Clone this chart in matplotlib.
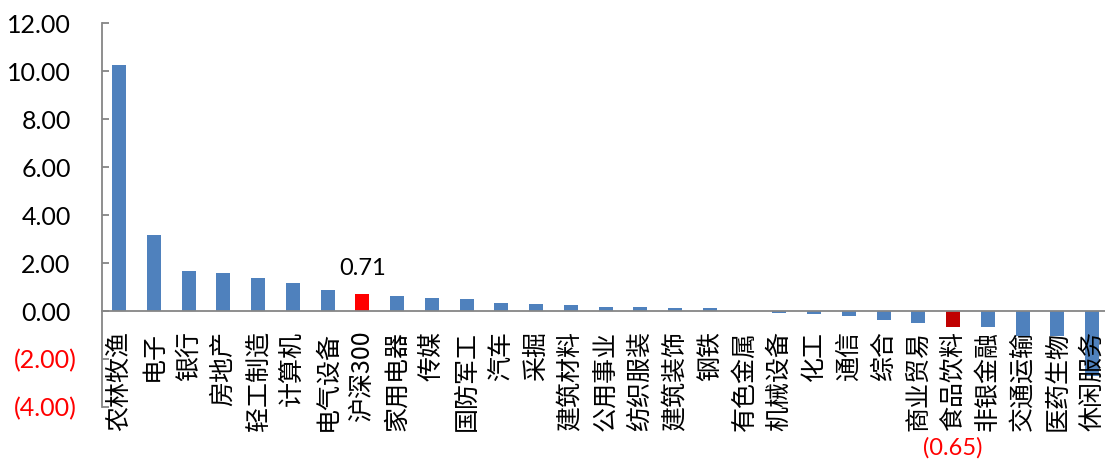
import matplotlib
matplotlib.use("Agg")
import matplotlib.pyplot as plt
import matplotlib.transforms as mtransforms

# 行业周涨跌幅(%)
industries = ["农林牧渔", "电子", "银行", "房地产", "轻工制造", "计算机", "电气设备",
              "沪深300", "家用电器", "传媒", "国防军工", "汽车", "采掘", "建筑材料",
              "公用事业", "纺织服装", "建筑装饰", "钢铁", "有色金属", "机械设备", "化工",
              "通信", "综合", "商业贸易", "食品饮料", "非银金融", "交通运输", "医药生物",
              "休闲服务"]
changes = [10.25, 3.19, 1.69, 1.57, 1.40, 1.19, 0.88,
           0.71, 0.62, 0.54, 0.50, 0.33, 0.28, 0.24,
           0.17, 0.15, 0.14, 0.12, 0.02, -0.10, -0.14,
           -0.20, -0.37, -0.51, -0.65, -0.67, -1.05, -1.03,
           -2.70]
yticks = [-4, -2, 0, 2, 4, 6, 8, 10, 12]

BLUE = "#4F81BD"
GRAY = "#868686"
num_font = "Lato"
cjk_font = ["Noto Sans CJK SC", "DejaVu Sans"]

colors = []
for name in industries:
    if name == "沪深300":
        colors.append("#FF0000")
    elif name == "食品饮料":
        colors.append("#C00000")
    else:
        colors.append(BLUE)

fig = plt.figure(figsize=(11.05, 4.59), dpi=100)
ax = fig.add_axes([101.7 / 1105, 52 / 459, 1007.8 / 1105, 383.7 / 459])

x = list(range(len(industries)))
ax.bar(x, changes, width=0.4, color=colors, zorder=1)

ax.set_xlim(-0.5, len(industries) - 0.5)
ax.set_ylim(-4, 12)

for side in ["top", "right"]:
    ax.spines[side].set_visible(False)
ax.spines["bottom"].set_position(("data", 0))
ax.spines["bottom"].set_color(GRAY)
ax.spines["left"].set_color(GRAY)
ax.spines["bottom"].set_linewidth(1.3)
ax.spines["left"].set_linewidth(1.3)

ax.set_xticks(x)
ax.set_xticklabels(industries, rotation=90, ha="center", va="top",
                   family=cjk_font, fontsize=18)
ax.tick_params(axis="x", length=0, pad=14)

ax.set_yticks(yticks)
ylabels = []
for v in yticks:
    if v < 0:
        ylabels.append("(%.2f)" % abs(v))
    else:
        ylabels.append("%.2f" % v)
ax.set_yticklabels(ylabels, family=num_font, fontsize=18)
ax.tick_params(axis="y", direction="in", length=5, width=1.3, color=GRAY, pad=18)

# negatives shown red in brackets; positives sit one bracket-width further left
shift = mtransforms.ScaledTranslation(-6 / 100, 0, fig.dpi_scale_trans)
for lab, v in zip(ax.get_yticklabels(), yticks):
    if v < 0:
        lab.set_color("#FF0000")
    else:
        lab.set_transform(lab.get_transform() + shift)

# value labels for the index and the highlighted sector
i_hs = industries.index("沪深300")
ax.annotate("%.2f" % changes[i_hs], xy=(i_hs, changes[i_hs]), xytext=(0, 13.5),
            textcoords="offset points", ha="center", va="baseline",
            family=num_font, fontsize=17, color="black")
i_fb = industries.index("食品饮料")
ax.annotate("(%.2f)" % abs(changes[i_fb]), xy=(i_fb, changes[i_fb]), xytext=(0, -87),
            textcoords="offset points", ha="center", va="center",
            family=num_font, fontsize=17, color="#FF0000", annotation_clip=False)

fig.savefig("out.png", dpi=100)
